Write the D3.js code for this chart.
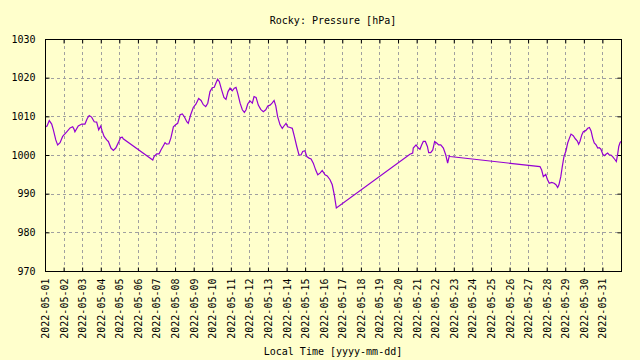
<!DOCTYPE html>
<html lang="en">
<head>
<meta charset="UTF-8">
<title>Rocky: Pressure</title>
<script src="https://d3js.org/d3.v7.min.js"></script>
<style>
  body { margin: 0; background: #ffffcc; }
  svg { display: block; }
  text { font-family: 'DejaVu Sans Mono', monospace; font-size: 10px; fill: #000; }
  .grid line { stroke: #a0a0a0; stroke-width: 1; stroke-dasharray: 3,3; }
</style>
</head>
<body>
<svg width="640" height="360"></svg>
<script>
// time in days since 2022-05-01 00:00, pressure in hPa
var dayOffset = [
  0.04, 0.11, 0.23, 0.36, 0.45, 0.58, 0.68, 0.81, 0.95, 1.17,
  1.35, 1.49, 1.56, 1.61, 1.79, 1.98, 2.15, 2.28, 2.38, 2.51,
  2.65, 2.78, 2.89, 3.00, 3.07, 3.18, 3.32, 3.41, 3.55, 3.68,
  3.81, 3.95, 4.07, 4.16, 4.21,
  5.80, 5.87, 6.01, 6.14, 6.24, 6.37, 6.46, 6.55, 6.67, 6.78,
  6.91, 7.03, 7.14, 7.27, 7.39, 7.50, 7.63, 7.71, 7.84, 7.98,
  8.13, 8.27, 8.40, 8.52, 8.65, 8.76, 8.88, 9.00, 9.11, 9.20,
  9.29, 9.38, 9.51, 9.63, 9.74, 9.85, 9.96, 10.08, 10.19, 10.28,
  10.37, 10.50, 10.62, 10.73, 10.82, 10.91, 11.03, 11.16, 11.25, 11.36,
  11.48, 11.61, 11.75, 11.88, 11.99, 12.11, 12.22, 12.33, 12.42, 12.52,
  12.65, 12.77, 12.86, 12.97, 13.06, 13.19, 13.31, 13.42, 13.55, 13.67,
  13.78, 13.87, 13.99, 14.09, 14.21, 14.32, 14.44, 14.57, 14.68, 14.80,
  14.92, 15.07, 15.19, 15.34, 15.46, 15.57, 15.68,
  19.64, 19.79, 19.82, 19.97, 20.09, 20.18, 20.27, 20.36, 20.47, 20.58,
  20.65, 20.76, 20.87, 20.97, 21.08, 21.19, 21.30, 21.44, 21.57, 21.67,
  21.76, 21.80,
  26.64, 26.73, 26.82, 26.95, 27.03, 27.14, 27.27, 27.40, 27.50, 27.59,
  27.66, 27.76, 27.84, 27.93, 28.04, 28.13, 28.22, 28.31, 28.43, 28.54,
  28.65, 28.72, 28.79, 28.89, 28.97, 29.10, 29.21, 29.30, 29.39, 29.48,
  29.56, 29.66, 29.75, 29.83, 29.92, 30.02, 30.10, 30.19, 30.28, 30.37,
  30.46, 30.55, 30.66, 30.75, 30.82, 30.88, 30.95, 31.00
];
var pressure = [
  1007.3, 1007.5, 1008.9, 1008.0, 1006.5, 1003.9, 1002.6, 1003.2, 1004.8, 1006.0,
  1007.0, 1007.3, 1006.7, 1006.0, 1007.5, 1008.0, 1008.0, 1009.5, 1010.2, 1009.8,
  1008.6, 1008.5, 1006.5, 1007.5, 1006.3, 1004.8, 1003.9, 1003.5, 1001.8, 1001.2,
  1001.8, 1003.2, 1004.5, 1004.6, 1004.2,
  998.7, 999.6, 1000.3, 1000.3, 1001.3, 1002.4, 1003.2, 1002.8, 1002.9, 1004.5,
  1007.3, 1007.8, 1008.2, 1010.4, 1010.6, 1009.9, 1008.6, 1008.2, 1010.4, 1012.3,
  1013.2, 1014.6, 1014.1, 1013.0, 1012.5, 1013.4, 1016.4, 1017.4, 1017.5, 1018.6,
  1019.6, 1019.0, 1016.8, 1014.9, 1014.4, 1016.4, 1017.3, 1016.6, 1017.3, 1017.5,
  1016.0, 1013.4, 1011.7, 1011.0, 1011.7, 1013.2, 1014.0, 1013.4, 1015.1, 1014.9,
  1012.9, 1011.8, 1011.2, 1011.7, 1012.7, 1012.9, 1013.4, 1014.1, 1012.7, 1009.9,
  1007.8, 1006.9, 1007.5, 1008.2, 1007.3, 1007.1, 1006.9, 1004.8, 1002.2, 1000.0,
  1000.0, 1000.9, 1001.1, 999.6, 999.2, 999.0, 997.9, 996.1, 994.9, 995.3,
  996.0, 994.9, 994.6, 993.6, 992.3, 989.7, 986.3,
  1000.2, 1000.5, 1001.8, 1002.6, 1001.8, 1001.5, 1002.6, 1003.5, 1003.5, 1002.2,
  1000.6, 1000.6, 1001.3, 1003.5, 1003.1, 1002.6, 1002.6, 1001.8, 1000.0, 997.9,
  999.8, 999.6,
  997.0, 996.1, 994.4, 995.0, 993.8, 992.7, 992.9, 992.7, 992.3, 991.6,
  992.3, 994.4, 997.0, 999.6, 1001.1, 1003.1, 1004.3, 1005.4, 1005.0, 1004.2,
  1003.6, 1002.8, 1003.5, 1005.2, 1006.0, 1006.3, 1006.9, 1007.1, 1006.2, 1004.3,
  1003.1, 1002.6, 1001.8, 1001.9, 1001.5, 1000.2, 999.8, 1000.2, 1000.5, 1000.0,
  1000.0, 999.6, 998.9, 998.3, 1000.2, 1002.2, 1003.2, 1003.5
];
var yTicks = [970, 980, 990, 1000, 1010, 1020, 1030];
var titleText = "Rocky: Pressure [hPa]";
var xLabelText = "Local Time [yyyy-mm-dd]";

var start = Date.UTC(2022, 4, 1), end = Date.UTC(2022, 5, 1);
var data = dayOffset.map(function(d, i) {
    return { t: new Date(start + d * 86400000), p: pressure[i] };
});

var svg = d3.select("svg");
var mLeft = 45, mRight = 621, mTop = 39, mBottom = 271;

var x = d3.scaleUtc().domain([new Date(start), new Date(end)]).range([mLeft, mRight]);
var y = d3.scaleLinear().domain([970, 1030]).range([mBottom, mTop]);
var dayTicks = d3.utcDay.range(new Date(start), new Date(end));
var fmt = d3.utcFormat("%Y-%m-%d");

// grid
var grid = svg.append("g").attr("class", "grid");
grid.selectAll(".gx").data(dayTicks.slice(1)).enter().append("line")
    .attr("x1", function(d) { return Math.round(x(d)) + 0.5; })
    .attr("x2", function(d) { return Math.round(x(d)) + 0.5; })
    .attr("y1", mBottom).attr("y2", mTop);
grid.selectAll(".gy").data(yTicks.slice(1, -1)).enter().append("line")
    .attr("y1", function(d) { return Math.round(y(d)) + 0.5; })
    .attr("y2", function(d) { return Math.round(y(d)) + 0.5; })
    .attr("x1", mLeft).attr("x2", mRight);

// y axis labels + ticks (left and mirrored right)
var yAxis = d3.axisLeft(y).tickValues(yTicks).tickFormat(d3.format("d")).tickSize(-4).tickPadding(10);
svg.append("g").attr("transform", "translate(" + (mLeft + 0.5) + ",0)").call(yAxis)
    .call(function(g) { g.select(".domain").remove(); });
svg.append("g").attr("transform", "translate(" + (mRight + 0.5) + ",0)")
    .call(d3.axisRight(y).tickValues(yTicks).tickSize(-4).tickFormat(""))
    .call(function(g) { g.select(".domain").remove(); });

// x axis labels + ticks (bottom and mirrored top)
var xAxis = d3.axisBottom(x).tickValues(dayTicks).tickFormat(fmt).tickSize(-4);
var gx = svg.append("g").attr("transform", "translate(0," + (mBottom + 0.5) + ")").call(xAxis);
gx.select(".domain").remove();
gx.selectAll("text")
    .attr("transform", "rotate(-90)")
    .attr("text-anchor", "end")
    .attr("x", -7).attr("y", 0).attr("dy", "0.35em");
svg.append("g").attr("transform", "translate(0," + (mTop + 0.5) + ")")
    .call(d3.axisTop(x).tickValues(dayTicks).tickFormat("").tickSize(-4))
    .call(function(g) { g.select(".domain").remove(); });

svg.selectAll(".tick line").attr("stroke", "#000");
svg.selectAll(".tick text").style("font-family", "'DejaVu Sans Mono', monospace").style("font-size", "10px");

// pressure line
var line = d3.line().x(function(d) { return x(d.t); }).y(function(d) { return y(d.p); });
svg.append("path").datum(data)
    .attr("fill", "none")
    .attr("stroke", "#9400d3")
    .attr("stroke-width", 1.2)
    .attr("d", line);

// border
svg.append("rect")
    .attr("x", mLeft + 0.5).attr("y", mTop + 0.5)
    .attr("width", mRight - mLeft).attr("height", mBottom - mTop)
    .attr("fill", "none").attr("stroke", "#000").attr("stroke-width", 1);

svg.append("text").attr("x", (mLeft + mRight) / 2).attr("y", 24)
    .attr("text-anchor", "middle").text(titleText);
svg.append("text").attr("x", (mLeft + mRight) / 2).attr("y", 355)
    .attr("text-anchor", "middle").text(xLabelText);
</script>
</body>
</html>
